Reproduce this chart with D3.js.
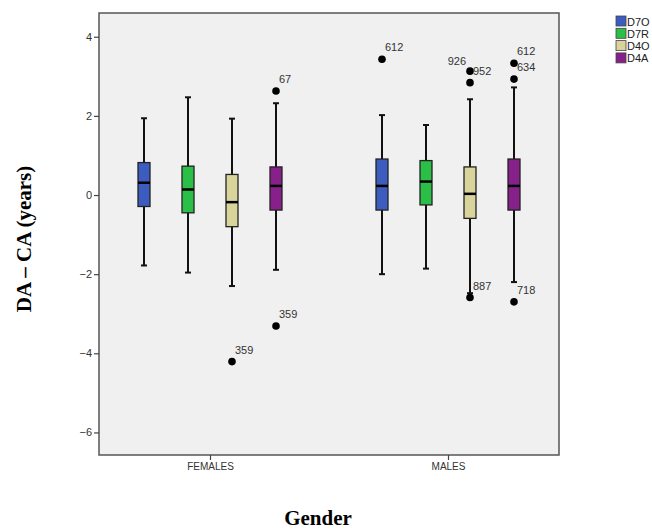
<!DOCTYPE html>
<html>
<head>
<script src="https://cdn.jsdelivr.net/npm/d3@7"></script>
<style>
	body { margin: 0; background: #fff; }
	svg { display: block; }
</style>
</head>
<body>
<div id="container"></div>
<script>
	const width = 652, height = 532;
	const margin = {top: 13, right: 93, bottom: 77, left: 99};

	const groups = ["FEMALES", "MALES"];
	const series = ["D7O", "D7R", "D4O", "D4A"];
	const colors = ["#3d5cbf", "#2cbf48", "#d9d39c", "#87208b"];
	const yTicks = [4, 2, 0, -2, -4, -6];

	// [whiskerLow, q1, median, q3, whiskerHigh] per series, per group
	const femalesStats = [
		[-1.78, -0.29, 0.31, 0.82, 1.94],
		[-1.96, -0.45, 0.14, 0.73, 2.47],
		[-2.30, -0.80, -0.18, 0.52, 1.93],
		[-1.89, -0.38, 0.23, 0.71, 2.32]
	];
	const malesStats = [
		[-2.00, -0.38, 0.23, 0.91, 2.02],
		[-1.86, -0.25, 0.34, 0.87, 1.77],
		[-2.48, -0.59, 0.03, 0.71, 2.42],
		[-2.20, -0.38, 0.23, 0.91, 2.72]
	];

	// outliers: group, series, value, case label, label side
	const outlierGroup  = ["FEMALES", "FEMALES", "FEMALES", "MALES", "MALES", "MALES", "MALES", "MALES", "MALES", "MALES"];
	const outlierSeries = ["D4O", "D4A", "D4A", "D7O", "D4O", "D4O", "D4O", "D4A", "D4A", "D4A"];
	const outlierValue  = [-4.21, 2.63, -3.31, 3.43, 3.13, 2.84, -2.59, 3.33, 2.93, -2.70];
	const outlierLabel  = ["359", "67", "359", "612", "926", "952", "887", "612", "634", "718"];
	const outlierSide   = ["r", "r", "r", "r", "l", "r", "r", "r", "r", "r"];

	const stats = {FEMALES: femalesStats, MALES: malesStats};

	const svg = d3.select("#container").append("svg")
		.attr("width", width).attr("height", height);

	const y = d3.scaleLinear().domain([-6.57, 4.6]).range([height - margin.bottom, margin.top]);
	const x = d3.scalePoint().domain(groups).range([margin.left + 111, width - margin.right - 111]);
	const xs = d3.scalePoint().domain(series).range([-66, 66]);
	const color = d3.scaleOrdinal().domain(series).range(colors);

	// plot background
	svg.append("rect")
		.attr("x", margin.left).attr("y", margin.top)
		.attr("width", width - margin.left - margin.right)
		.attr("height", height - margin.top - margin.bottom)
		.attr("fill", "#f0f0f0").attr("stroke", "#555").attr("stroke-width", 1.5);

	/**************************************************************
		AXES
	**************************************************************/
	const yAxis = d3.axisLeft(y).tickValues(yTicks).tickSize(5).tickPadding(2);
	const gy = svg.append("g").attr("transform", `translate(${margin.left},0)`).call(yAxis);
	gy.select(".domain").remove();
	gy.selectAll("line").attr("stroke", "#444").attr("stroke-width", 1.2);
	gy.selectAll("text").attr("font-family", "Liberation Sans, Arial, sans-serif")
		.attr("font-size", 11).attr("fill", "#333");

	const xAxis = d3.axisBottom(x).tickSize(5).tickPadding(3);
	const gx = svg.append("g").attr("transform", `translate(0,${height - margin.bottom})`).call(xAxis);
	gx.select(".domain").remove();
	gx.selectAll("line").attr("stroke", "#444").attr("stroke-width", 1.2);
	gx.selectAll("text").attr("font-family", "Liberation Sans, Arial, sans-serif")
		.attr("font-size", 10).attr("fill", "#333");

	svg.append("text")
		.attr("transform", `translate(31,${239}) rotate(-90)`)
		.attr("text-anchor", "middle")
		.attr("font-family", "Liberation Serif, Times New Roman, serif")
		.attr("font-weight", "bold").attr("font-size", 21)
		.text("DA – CA (years)");

	svg.append("text")
		.attr("x", 318).attr("y", 525)
		.attr("text-anchor", "middle")
		.attr("font-family", "Liberation Serif, Times New Roman, serif")
		.attr("font-weight", "bold").attr("font-size", 21)
		.text("Gender");

	/**************************************************************
		BOXES
	**************************************************************/
	const boxW = 12, capW = 6;
	const boxes = [];
	groups.forEach(g => series.forEach((s, i) => boxes.push({g: g, s: s, v: stats[g][i]})));

	const bg = svg.append("g").selectAll("g").data(boxes).enter().append("g")
		.attr("transform", d => `translate(${x(d.g) + xs(d.s)},0)`);

	bg.append("line").attr("y1", d => y(d.v[0])).attr("y2", d => y(d.v[4]))
		.attr("stroke", "#111").attr("stroke-width", 2);
	bg.append("line").attr("x1", -capW / 2).attr("x2", capW / 2)
		.attr("y1", d => y(d.v[4])).attr("y2", d => y(d.v[4]))
		.attr("stroke", "#111").attr("stroke-width", 2);
	bg.append("line").attr("x1", -capW / 2).attr("x2", capW / 2)
		.attr("y1", d => y(d.v[0])).attr("y2", d => y(d.v[0]))
		.attr("stroke", "#111").attr("stroke-width", 2);
	bg.append("rect").attr("x", -boxW / 2).attr("width", boxW)
		.attr("y", d => y(d.v[3])).attr("height", d => y(d.v[1]) - y(d.v[3]))
		.attr("fill", d => color(d.s)).attr("stroke", "#222").attr("stroke-width", 1.3);
	bg.append("line").attr("x1", -boxW / 2).attr("x2", boxW / 2)
		.attr("y1", d => y(d.v[2])).attr("y2", d => y(d.v[2]))
		.attr("stroke", "#000").attr("stroke-width", 2.5);

	/**************************************************************
		OUTLIERS
	**************************************************************/
	const outliers = outlierValue.map((v, i) => ({
		g: outlierGroup[i], s: outlierSeries[i], v: v, label: outlierLabel[i], side: outlierSide[i]
	}));

	const og = svg.append("g").selectAll("g").data(outliers).enter().append("g")
		.attr("transform", d => `translate(${x(d.g) + xs(d.s)},${y(d.v)})`);
	og.append("circle").attr("r", 3.8).attr("fill", "#000");
	og.append("text")
		.attr("x", d => d.side == "l" ? -4 : 3)
		.attr("y", d => d.side == "l" ? -6 : -8)
		.attr("text-anchor", d => d.side == "l" ? "end" : "start")
		.attr("font-family", "Liberation Sans, Arial, sans-serif")
		.attr("font-size", 11).attr("fill", "#333")
		.text(d => d.label);

	/**************************************************************
		LEGEND
	**************************************************************/
	const lg = svg.append("g").selectAll("g").data(series).enter().append("g")
		.attr("transform", (d, i) => `translate(616,${16 + i * 12.3})`);
	lg.append("rect").attr("width", 10).attr("height", 10)
		.attr("fill", d => color(d)).attr("stroke", "#444").attr("stroke-width", 0.8);
	lg.append("text").attr("x", 11).attr("y", 9.5)
		.attr("font-family", "Liberation Sans, Arial, sans-serif")
		.attr("font-size", 11).attr("fill", "#222")
		.text(d => d);
</script>
</body>
</html>
